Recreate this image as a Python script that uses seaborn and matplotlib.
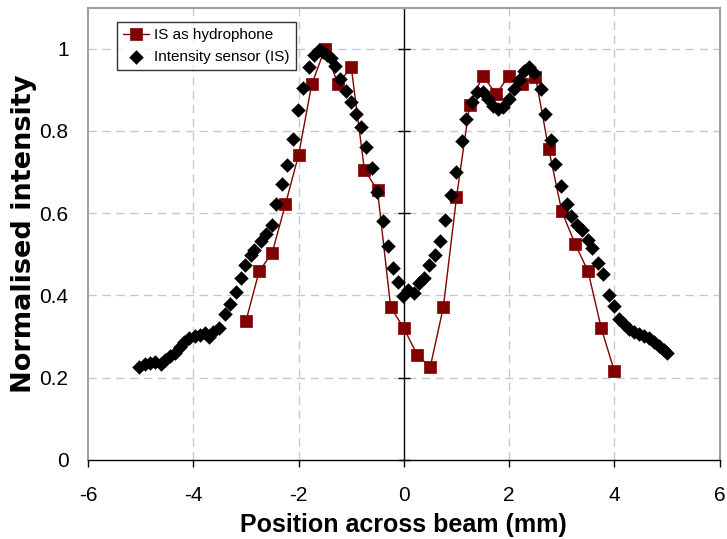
import matplotlib
matplotlib.use("Agg")
import matplotlib.pyplot as plt
import seaborn as sns
import pandas as pd

# IS as hydrophone
hyd_x = [-3.0, -2.75, -2.5, -2.25, -2.0, -1.75, -1.5, -1.25, -1.0, -0.75, -0.5, -0.25,
         0.0, 0.25, 0.5, 0.75, 1.0, 1.25, 1.5, 1.75, 2.0, 2.25, 2.5, 2.75, 3.0, 3.25,
         3.5, 3.75, 4.0]
hyd_y = [0.337, 0.458, 0.504, 0.621, 0.741, 0.913, 1.0, 0.913, 0.956, 0.706, 0.655, 0.371,
         0.320, 0.256, 0.225, 0.371, 0.638, 0.864, 0.934, 0.890, 0.934, 0.913, 0.932, 0.757,
         0.604, 0.526, 0.458, 0.320, 0.215]

# Intensity sensor (IS)
is_x = [-5.03, -4.92, -4.82, -4.73, -4.62, -4.54, -4.44, -4.35, -4.25, -4.18, -4.08, -3.97,
        -3.87, -3.78, -3.70, -3.62, -3.51, -3.40, -3.30, -3.19, -3.10, -3.02, -2.91, -2.85,
        -2.72, -2.62, -2.51, -2.42, -2.31, -2.22, -2.10, -2.01, -1.91, -1.80, -1.71, -1.61,
        -1.53, -1.46, -1.39, -1.31, -1.22, -1.10, -1.01, -0.91, -0.82, -0.71, -0.61, -0.51,
        -0.40, -0.30, -0.20, -0.11, -0.01, 0.08, 0.19, 0.29, 0.39, 0.48, 0.59, 0.68,
        0.79, 0.89, 1.00, 1.10, 1.19, 1.29, 1.39, 1.50, 1.59, 1.69, 1.79, 1.89,
        1.99, 2.09, 2.19, 2.29, 2.38, 2.48, 2.60, 2.69, 2.79, 2.88, 2.99, 3.09,
        3.18, 3.29, 3.39, 3.50, 3.58, 3.69, 3.78, 3.89, 3.99, 4.09, 4.18, 4.28,
        4.37, 4.47, 4.56, 4.66, 4.75, 4.84, 4.94, 5.00]
is_y = [0.226, 0.232, 0.235, 0.238, 0.234, 0.242, 0.252, 0.260, 0.274, 0.286, 0.297, 0.300,
        0.304, 0.308, 0.298, 0.311, 0.321, 0.354, 0.378, 0.408, 0.442, 0.473, 0.499, 0.511,
        0.533, 0.550, 0.570, 0.623, 0.670, 0.717, 0.781, 0.852, 0.904, 0.955, 0.985, 0.997,
        0.993, 0.985, 0.977, 0.959, 0.926, 0.898, 0.871, 0.841, 0.810, 0.762, 0.710, 0.651,
        0.582, 0.519, 0.467, 0.432, 0.399, 0.412, 0.405, 0.429, 0.442, 0.473, 0.498, 0.531,
        0.584, 0.644, 0.701, 0.776, 0.829, 0.870, 0.894, 0.894, 0.878, 0.860, 0.853, 0.858,
        0.878, 0.901, 0.924, 0.945, 0.956, 0.942, 0.902, 0.842, 0.778, 0.720, 0.665, 0.623,
        0.594, 0.570, 0.559, 0.535, 0.516, 0.478, 0.451, 0.402, 0.374, 0.343, 0.331, 0.319,
        0.311, 0.305, 0.300, 0.295, 0.286, 0.276, 0.268, 0.260]

x_ticks = [-6, -4, -2, 0, 2, 4, 6]
y_ticks = [0, 0.2, 0.4, 0.6, 0.8, 1.0]
y_tick_labels = ["0", "0.2", "0.4", "0.6", "0.8", "1"]

sns.set_style("white")
plt.rcParams['font.family'] = ['Liberation Sans', 'DejaVu Sans']
plt.rcParams['text.color'] = 'black'
plt.rcParams['axes.labelcolor'] = 'black'
plt.rcParams['xtick.color'] = 'black'
plt.rcParams['ytick.color'] = 'black'

fig = plt.figure(figsize=(7.27, 5.39), dpi=100)
ax = fig.add_axes([0.121, 0.147, 0.869, 0.839])

df_h = pd.DataFrame({"x": hyd_x, "y": hyd_y})
df_i = pd.DataFrame({"x": is_x, "y": is_y})

sns.lineplot(data=df_h, x="x", y="y", ax=ax, color="#800000", linewidth=1.0,
             marker="s", markersize=9, markeredgecolor="#800000", markeredgewidth=0.5,
             label="IS as hydrophone", sort=False, zorder=3)
sns.scatterplot(data=df_i, x="x", y="y", ax=ax, color="black", marker="D", s=50,
                edgecolor="black", linewidth=0.3, label="Intensity sensor (IS)", zorder=4)

ax.set_xlim(-6, 6)
ax.set_ylim(0, 1.1)
ax.set_xticks(x_ticks)
ax.set_xticklabels([str(t) for t in x_ticks])
ax.set_yticks(y_ticks)
ax.set_yticklabels(y_tick_labels)

# grid
for t in [-4, -2, 2, 4]:
    ax.axvline(t, color="#c8c8c8", linestyle=(0, (6, 4)), linewidth=1.0, zorder=0)
for t in [0.2, 0.4, 0.6, 0.8, 1.0]:
    ax.axhline(t, color="#c8c8c8", linestyle=(0, (6, 4)), linewidth=1.0, zorder=0)

for s in ["left", "top", "right"]:
    ax.spines[s].set_color("#a0a0a0")
    ax.spines[s].set_linewidth(1.5)
ax.spines["bottom"].set_color("black")
ax.spines["bottom"].set_linewidth(1.0)

ax.tick_params(axis="y", length=0, labelsize=15, pad=14, labelcolor="black")
ax.tick_params(axis="x", direction="out", length=5, width=1, color="black",
               labelsize=15, pad=14, bottom=True, labelcolor="black")

# y axis crossing at x = 0
sec = ax.secondary_yaxis(0.5)
sec.set_yticks(y_ticks)
sec.set_yticklabels([])
sec.tick_params(axis="y", direction="inout", length=8, width=1, color="black",
                labelleft=False, labelright=False)
for s in sec.spines.values():
    s.set_color("black")
    s.set_linewidth(1.0)

ax.set_xlabel("Position across beam (mm)", fontsize=18, fontweight="bold", labelpad=6,
              color="black")
ax.set_ylabel("Normalised intensity", fontsize=19.5, fontweight="bold", labelpad=2,
              color="black", family=["DejaVu Sans"])

leg = ax.legend(loc="upper left", bbox_to_anchor=(0.046, 0.968), borderaxespad=0,
                frameon=True, fancybox=False, edgecolor="black", fontsize=11,
                handlelength=1.7, handletextpad=0.35, borderpad=0.4, labelspacing=0.5)
leg.get_frame().set_linewidth(1.0)
for t in leg.get_texts():
    t.set_color("black")

fig.savefig("out.png", dpi=100)
